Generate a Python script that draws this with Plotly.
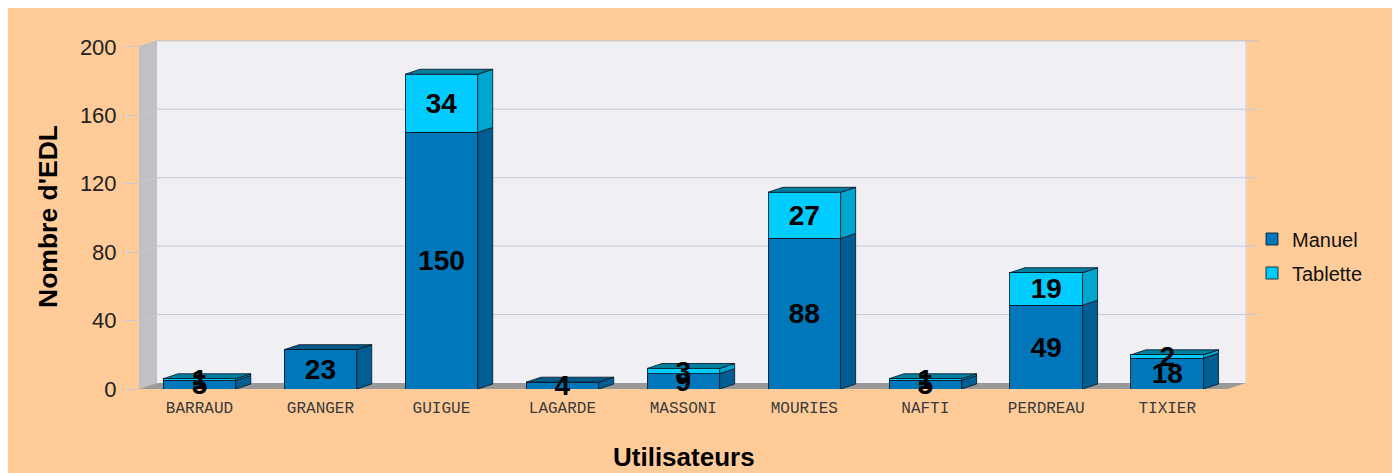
import plotly.graph_objects as go

# ---------------- data ----------------
users = ["BARRAUD", "GRANGER", "GUIGUE", "LAGARDE", "MASSONI",
         "MOURIES", "NAFTI", "PERDREAU", "TIXIER"]
manuel = [5, 23, 150, 4, 9, 88, 5, 49, 18]
tablette = [1, 0, 34, 0, 3, 27, 1, 19, 2]
y_ticks = [0, 40, 80, 120, 160, 200]

# ---------------- style ----------------
PEACH = "#FFCC99"
front_colors = {"Manuel": "#0077BB", "Tablette": "#00CCFF"}
side_colors = {"Manuel": "#005E92", "Tablette": "#00A8D0"}
top_colors = {"Manuel": "#005A88", "Tablette": "#007F9E"}
EDGE = "rgba(10,25,40,0.85)"

BAR_W = 0.6
DX_BAR, DY_BAR = 0.124, 2.9      # bar depth (data units)
DX_WALL, DY_WALL = 0.149, 3.5    # wall depth (data units)
X_MIN, X_MAX = -0.5, 8.8
Y_MAX = 204
Y_TOP = y_ticks[-1]
n = len(users)
xs = list(range(n))
X_FRONT_END = n - 0.5
X_BACK_START = X_MIN + DX_WALL
X_BACK_END = X_FRONT_END + DX_WALL
GRID_END = X_BACK_END + 0.107

OFF = 8  # page margin of the browser
W, H = 1400, 473
L, T = 139 - OFF, 40 - OFF
B = H - (389 - OFF)
R = W - (1264 - OFF)
plot_w = W - L - R
plot_h = H - T - B


def px_x(p):  # screen px -> paper
    return (p - OFF - L) / plot_w


def px_y(p):
    return (H - B - (p - OFF)) / plot_h


def poly(points, fill, line_color=None, width=0):
    path = "M " + " L ".join(f"{a},{b}" for a, b in points) + " Z"
    return dict(type="path", xref="x", yref="y", path=path, fillcolor=fill,
                line=dict(color=line_color or fill, width=width), layer="below")


shapes = []
# back wall
shapes.append(poly([(X_BACK_START, DY_WALL), (X_BACK_END, DY_WALL),
                    (X_BACK_END, Y_TOP + DY_WALL), (X_BACK_START, Y_TOP + DY_WALL)],
                   "#EFEFF4"))
# left wall
shapes.append(poly([(X_MIN, 0), (X_BACK_START, DY_WALL),
                    (X_BACK_START, Y_TOP + DY_WALL), (X_MIN, Y_TOP)], "#C0C0C5"))
# floor
shapes.append(poly([(X_MIN, 0), (X_FRONT_END, 0),
                    (X_BACK_END, DY_WALL), (X_BACK_START, DY_WALL)], "#999999"))
# right edge of back wall
shapes.append(dict(type="line", xref="x", yref="y", x0=X_BACK_END, x1=X_BACK_END,
                   y0=DY_WALL, y1=Y_TOP + DY_WALL, line=dict(color="#DADAE0", width=1),
                   layer="below"))
# grid lines (front tick -> side wall -> back wall)
for v in y_ticks[1:]:
    col = "#BDBDC6" if v == Y_TOP else "#C8C8DA"
    shapes.append(dict(type="path", xref="x", yref="y",
                       path=f"M {X_MIN},{v} L {X_BACK_START},{v + DY_WALL} L {GRID_END},{v + DY_WALL}",
                       line=dict(color=col, width=1), layer="below"))

# 3D faces of bars
for i in xs:
    segs = [("Manuel", 0, manuel[i]), ("Tablette", manuel[i], manuel[i] + tablette[i])]
    segs = [s for s in segs if s[2] > s[1]]
    xl, xr = i - BAR_W / 2, i + BAR_W / 2
    for name, y0, y1 in segs:
        shapes.append(poly([(xr, y0), (xr + DX_BAR, y0 + DY_BAR),
                            (xr + DX_BAR, y1 + DY_BAR), (xr, y1)],
                           side_colors[name], EDGE, 1))
    name, _, top = segs[-1]
    shapes.append(poly([(xl, top), (xl + DX_BAR, top + DY_BAR),
                        (xr + DX_BAR, top + DY_BAR), (xr, top)],
                       top_colors[name], EDGE, 1))

label_font = dict(family="Liberation Sans", size=28, color="black", weight="bold")

fig = go.Figure()
for name, vals, grp in (("Manuel", manuel, "g1"), ("Tablette", tablette, "g2")):
    fig.add_trace(go.Bar(
        x=xs, y=vals, name=name, legendgroup=grp,
        marker=dict(color=front_colors[name], line=dict(color=EDGE, width=1)),
        text=[str(v) if v else "" for v in vals],
        textposition="inside", insidetextanchor="middle", textangle=0,
        constraintext="none", textfont=label_font, insidetextfont=label_font,
        cliponaxis=False, width=BAR_W,
    ))

fig.update_layout(
    width=W, height=H,
    barmode="stack",
    paper_bgcolor=PEACH, plot_bgcolor="rgba(0,0,0,0)",
    margin=dict(l=L, r=R, t=T, b=B, autoexpand=False),
    shapes=shapes,
    uniformtext=dict(minsize=28, mode="show"),
    showlegend=True,
    legend=dict(x=px_x(1252), y=px_y(256), xanchor="left", yanchor="middle",
                font=dict(family="Liberation Sans", size=20, color="#111"),
                bgcolor="rgba(0,0,0,0)", traceorder="grouped", tracegroupgap=5),
    xaxis=dict(range=[X_MIN, X_MAX], tickvals=xs, ticktext=users,
               showgrid=False, zeroline=False, showline=False, ticks="",
               tickfont=dict(family="Liberation Mono", size=16, color="#3a3a3a"),
               ticklabelstandoff=7),
    yaxis=dict(range=[0, Y_MAX], tickvals=y_ticks, showgrid=False, zeroline=False,
               showline=False, ticks="outside", ticklen=14, tickcolor="#C8C8DA",
               tickfont=dict(family="Liberation Sans", size=22, color="#222"),
               ticklabelstandoff=3),
    annotations=[
        dict(text="Nombre d'EDL", xref="paper", yref="paper", x=px_x(48), y=px_y(217),
             textangle=-90, showarrow=False, xanchor="center", yanchor="middle",
             font=dict(family="Liberation Sans", size=26.5, color="black", weight="bold")),
        dict(text="Utilisateurs", xref="paper", yref="paper", x=px_x(684), y=px_y(457),
             showarrow=False, xanchor="center", yanchor="middle",
             font=dict(family="Liberation Sans", size=26, color="black", weight="bold")),
    ],
)

fig.write_html("out.html")
